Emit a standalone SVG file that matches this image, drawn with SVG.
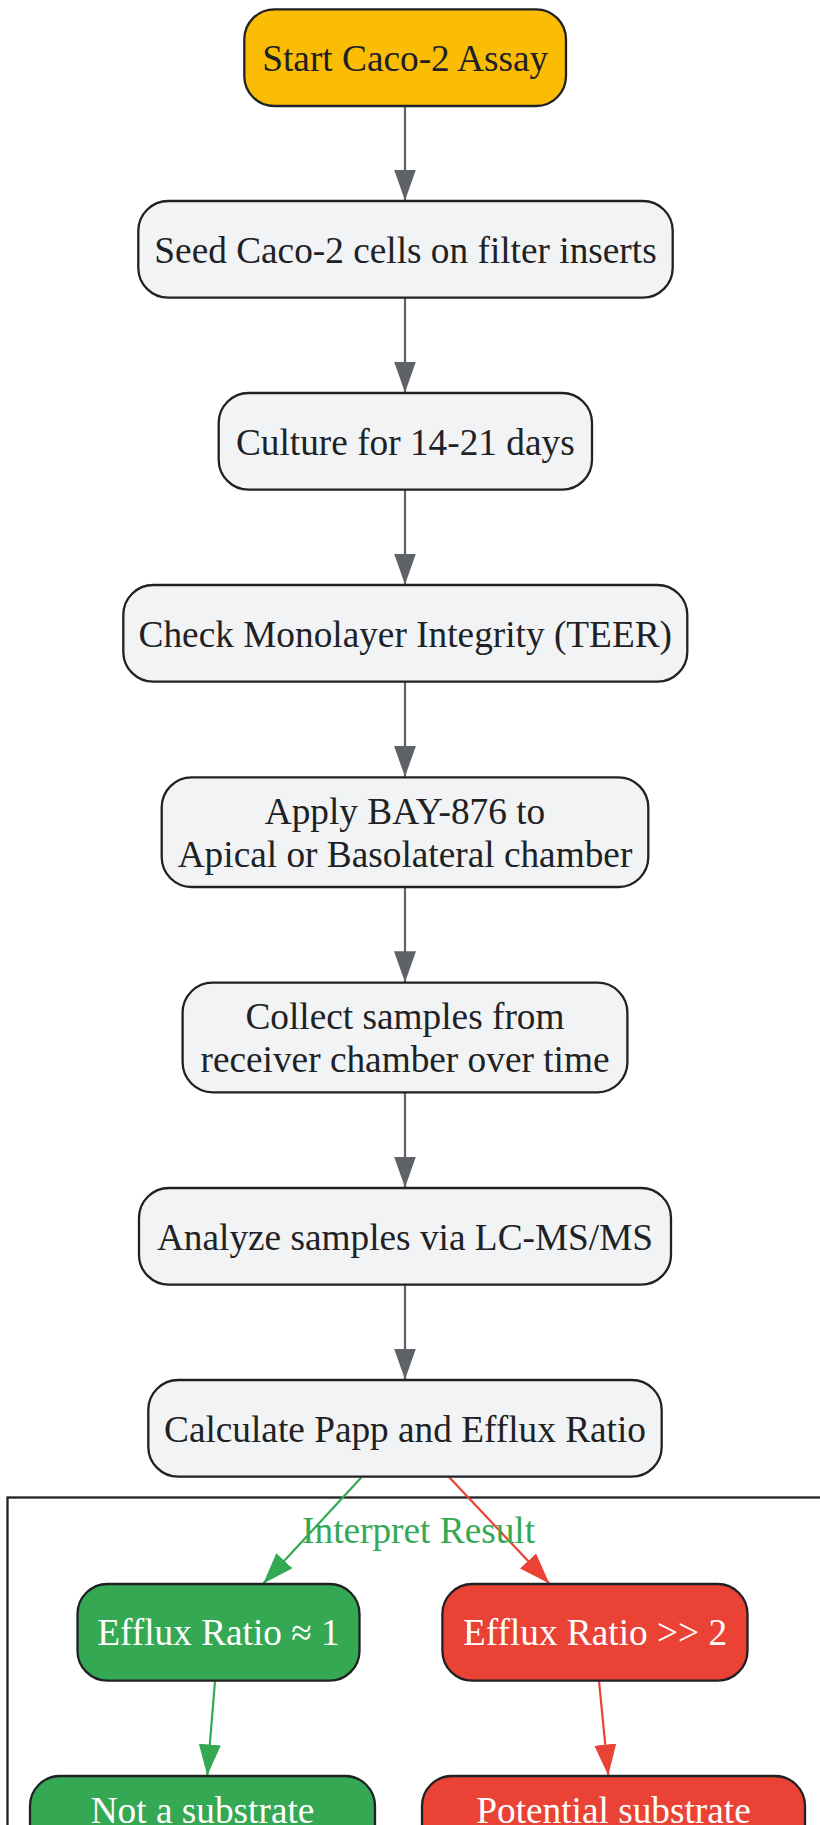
<svg xmlns="http://www.w3.org/2000/svg" width="820" height="1825" viewBox="0 0 820 1825">
<style>
.n rect{stroke:#202124;stroke-width:2.3}
.g rect{fill:#f1f3f4}
.t{font-family:"Liberation Serif","Times New Roman",serif;font-size:37.3px;text-anchor:middle;fill:#202124}
.w{fill:#ffffff}
.e{fill:none;stroke-width:2.2}
</style>
<defs>
<marker id="ag" markerUnits="userSpaceOnUse" markerWidth="32" markerHeight="24" refX="31" refY="11" orient="auto"><path d="M0,0 L31,11 L0,22 z" fill="#5f6368"/></marker>
<marker id="agr" markerUnits="userSpaceOnUse" markerWidth="32" markerHeight="24" refX="31" refY="11" orient="auto"><path d="M0,0 L31,11 L0,22 z" fill="#34a853"/></marker>
<marker id="ard" markerUnits="userSpaceOnUse" markerWidth="32" markerHeight="24" refX="31" refY="11" orient="auto"><path d="M0,0 L31,11 L0,22 z" fill="#ea4335"/></marker>
</defs>
<rect width="820" height="1825" fill="#ffffff"/>
<g id="cluster_interpret">
<rect x="7.5" y="1497.5" width="830" height="400" fill="#ffffff" stroke="#202124" stroke-width="2.3"/>
</g>
<g id="edges">
<line class="e" x1="405" y1="106" x2="405" y2="200.5" stroke="#5f6368" marker-end="url(#ag)"/>
<line class="e" x1="405" y1="297.7" x2="405" y2="392.5" stroke="#5f6368" marker-end="url(#ag)"/>
<line class="e" x1="405" y1="489.7" x2="405" y2="584.5" stroke="#5f6368" marker-end="url(#ag)"/>
<line class="e" x1="405" y1="681.7" x2="405" y2="776.8" stroke="#5f6368" marker-end="url(#ag)"/>
<line class="e" x1="405" y1="887" x2="405" y2="982.2" stroke="#5f6368" marker-end="url(#ag)"/>
<line class="e" x1="405" y1="1092.3" x2="405" y2="1187.5" stroke="#5f6368" marker-end="url(#ag)"/>
<line class="e" x1="405" y1="1284.7" x2="405" y2="1379.5" stroke="#5f6368" marker-end="url(#ag)"/>
<line class="e" x1="361.7" y1="1477" x2="263.3" y2="1583.5" stroke="#34a853" marker-end="url(#agr)"/>
<line class="e" x1="449" y1="1477" x2="549.3" y2="1583.5" stroke="#ea4335" marker-end="url(#ard)"/>
<line class="e" x1="215" y1="1681" x2="207.3" y2="1775.5" stroke="#34a853" marker-end="url(#agr)"/>
<line class="e" x1="599" y1="1681" x2="608.3" y2="1775.5" stroke="#ea4335" marker-end="url(#ard)"/>
<text class="t" x="418.6" y="1542.7" style="fill:#34a853">Interpret Result</text>
</g>
<g id="start" class="n"><rect x="244.3" y="9.3" width="321.7" height="96.7" rx="30" fill="#fbbc04"/><text class="t" x="405.2" y="71.2">Start Caco-2 Assay</text></g>
<g id="seed" class="n g"><rect x="138.3" y="201" width="534.4" height="96.7" rx="30"/><text class="t" x="405.5" y="262.8">Seed Caco-2 cells on filter inserts</text></g>
<g id="culture" class="n g"><rect x="218.7" y="393" width="373.3" height="96.7" rx="30"/><text class="t" x="405.3" y="454.8">Culture for 14-21 days</text></g>
<g id="check" class="n g"><rect x="123.3" y="585" width="564" height="96.7" rx="30"/><text class="t" x="405.3" y="647">Check Monolayer Integrity (TEER)</text></g>
<g id="apply" class="n g"><rect x="161.7" y="777.3" width="486.6" height="109.7" rx="30"/><text class="t" x="405" y="824">Apply BAY-876 to</text><text class="t" x="405" y="867.3">Apical or Basolateral chamber</text></g>
<g id="collect" class="n g"><rect x="182.6" y="982.7" width="444.8" height="109.6" rx="30"/><text class="t" x="405" y="1028.5">Collect samples from</text><text class="t" x="405" y="1071.7">receiver chamber over time</text></g>
<g id="analyze" class="n g"><rect x="139" y="1188" width="532" height="96.7" rx="30"/><text class="t" x="405" y="1250.3">Analyze samples via LC-MS/MS</text></g>
<g id="calculate" class="n g"><rect x="148.3" y="1380" width="513.4" height="96.7" rx="30"/><text class="t" x="405" y="1441.8">Calculate Papp and Efflux Ratio</text></g>
<g id="efflux_low" class="n"><rect x="77.5" y="1584" width="282" height="96.7" rx="30" fill="#34a853"/><text class="t w" x="218.5" y="1645">Efflux Ratio ≈ 1</text></g>
<g id="efflux_high" class="n"><rect x="442.4" y="1584" width="305.1" height="96.7" rx="30" fill="#ea4335"/><text class="t w" x="595" y="1645">Efflux Ratio &gt;&gt; 2</text></g>
<g id="not_substrate" class="n"><rect x="30" y="1776" width="345" height="110" rx="30" fill="#34a853"/><text class="t w" x="202.5" y="1822.7">Not a substrate</text></g>
<g id="potential_substrate" class="n"><rect x="422" y="1776" width="383" height="110" rx="30" fill="#ea4335"/><text class="t w" x="613.5" y="1822.7">Potential substrate</text></g>
</svg>
